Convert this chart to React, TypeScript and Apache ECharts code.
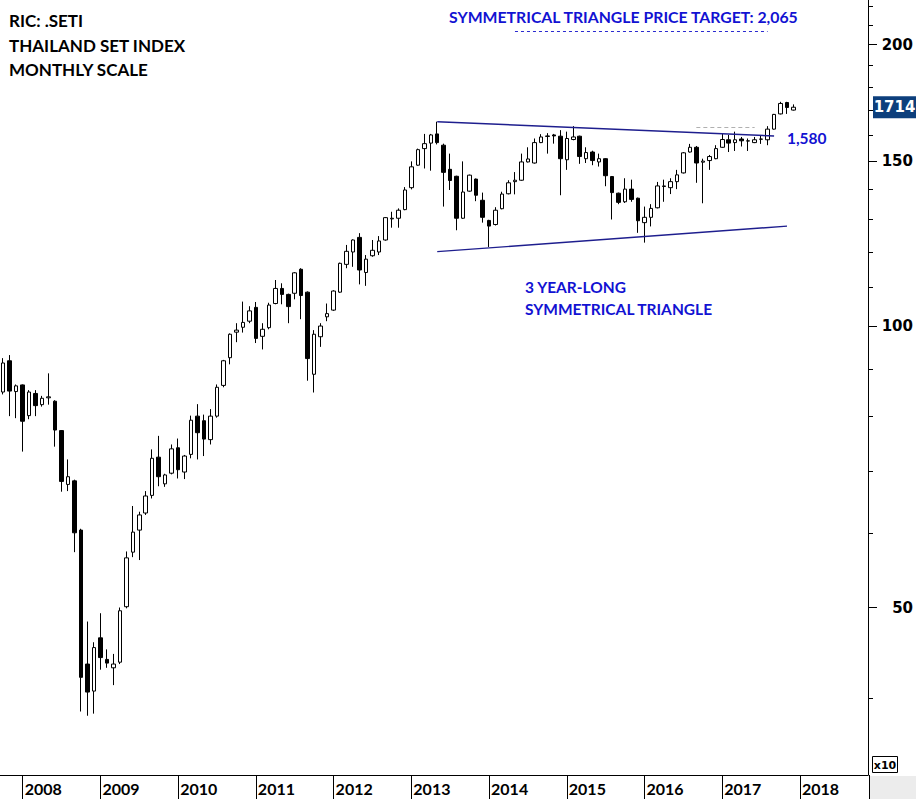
import React, { useEffect, useRef } from "react";
import * as echarts from "echarts";

// ---- data (SET index, monthly [open, close, low, high]) ----
const firstYear = 2007;
const firstMonthIndex = 9; // October (0-based)
const monthCount = 134; // Oct 2007 .. Nov 2018 (axis room to the right)

const ohlc2007 = [
  [850, 913, 845, 924], [918, 852, 801, 931], [851, 863, 797, 866],
];
const ohlc2008 = [
  [865, 791, 734, 866], [802, 850, 795, 854], [847, 822, 801, 854], [824, 837, 820, 842],
  [838, 840, 824, 890], [831, 774, 743, 833], [773, 682, 665, 774], [677, 690, 666, 720],
  [683, 601, 573, 685], [605, 421, 387, 607], [435, 406, 383, 483], [407, 453, 385, 459],
];
const ohlc2009 = [
  [464, 442, 429, 493], [440, 436, 431, 451], [431, 435, 413, 446], [437, 496, 435, 500],
  [501, 565, 499, 574], [573, 602, 566, 642], [605, 628, 562, 633], [631, 658, 628, 666],
  [659, 722, 654, 738], [724, 690, 674, 763], [678, 693, 673, 695], [696, 739, 694, 747],
];
const ohlc2010 = [
  [741, 702, 687, 758], [698, 726, 686, 728], [729, 793, 722, 802], [801, 769, 720, 825],
  [792, 757, 726, 804], [756, 801, 747, 815], [801, 860, 798, 866], [864, 918, 860, 920],
  [925, 980, 910, 982], [985, 990, 961, 1007], [997, 1009, 984, 1062], [1012, 1038, 1007, 1050],
];
const ohlc2011 = [
  [1047, 970, 959, 1061], [975, 992, 944, 1007], [996, 1053, 992, 1059], [1057, 1097, 1055, 1120],
  [1097, 1081, 1055, 1111], [1081, 1049, 1007, 1083], [1084, 1140, 1068, 1142], [1150, 1078, 1017, 1153],
  [1087, 923, 874, 1089], [888, 980, 849, 990], [974, 1000, 950, 1007], [1023, 1031, 1012, 1057],
];
const ohlc2012 = [
  [1040, 1090, 1038, 1092], [1087, 1167, 1085, 1169], [1164, 1202, 1153, 1221], [1200, 1236, 1157, 1238],
  [1244, 1148, 1108, 1257], [1141, 1179, 1104, 1191], [1189, 1205, 1186, 1236], [1200, 1233, 1191, 1248],
  [1236, 1306, 1234, 1308], [1302, 1304, 1274, 1325], [1304, 1330, 1274, 1336], [1332, 1398, 1330, 1408],
];
const ohlc2013 = [
  [1406, 1480, 1400, 1500], [1486, 1544, 1484, 1548], [1548, 1567, 1474, 1605], [1569, 1601, 1466, 1605],
  [1605, 1571, 1564, 1654], [1561, 1460, 1342, 1567], [1471, 1431, 1398, 1529], [1446, 1304, 1266, 1448],
  [1304, 1391, 1302, 1500], [1394, 1450, 1392, 1452], [1436, 1380, 1360, 1438], [1363, 1307, 1290, 1389],
];
const ohlc2014 = [
  [1297, 1279, 1215, 1299], [1284, 1330, 1281, 1340], [1335, 1384, 1333, 1392], [1385, 1423, 1383, 1432],
  [1427, 1432, 1383, 1461], [1432, 1498, 1430, 1529], [1498, 1509, 1496, 1553], [1494, 1571, 1492, 1587],
  [1571, 1593, 1569, 1604], [1595, 1597, 1529, 1608], [1601, 1597, 1567, 1605], [1596, 1510, 1380, 1620],
];
const ohlc2015 = [
  [1506, 1587, 1469, 1614], [1583, 1593, 1580, 1636], [1596, 1518, 1491, 1598], [1510, 1533, 1494, 1553],
  [1535, 1503, 1486, 1540], [1498, 1510, 1481, 1529], [1510, 1448, 1411, 1512], [1445, 1389, 1300, 1447],
  [1387, 1356, 1350, 1389], [1358, 1401, 1354, 1439], [1401, 1366, 1358, 1434], [1370, 1296, 1258, 1372],
];
const ohlc2016 = [
  [1290, 1307, 1228, 1342], [1307, 1336, 1278, 1350], [1338, 1412, 1336, 1426], [1410, 1412, 1358, 1434],
  [1406, 1427, 1384, 1439], [1427, 1451, 1401, 1469], [1458, 1532, 1456, 1535], [1535, 1553, 1533, 1566],
  [1553, 1494, 1423, 1558], [1497, 1501, 1353, 1510], [1503, 1518, 1469, 1524], [1510, 1548, 1508, 1561],
];
const ohlc2017 = [
  [1553, 1583, 1551, 1605], [1582, 1569, 1535, 1601], [1571, 1582, 1539, 1614], [1585, 1578, 1556, 1593],
  [1577, 1578, 1539, 1587], [1571, 1582, 1569, 1593], [1584, 1585, 1566, 1597], [1582, 1624, 1561, 1636],
  [1624, 1684, 1622, 1686], [1686, 1730, 1684, 1737], [1734, 1713, 1686, 1737], [1702, 1714, 1700, 1726],
];

const yTickValues = [400, 500, 600, 700, 800, 900, 1000, 1100, 1200, 1300, 1400, 1500, 1600, 1700, 1800, 1900, 2000, 2100, 2200];
const yLabelValues = [500, 1000, 1500, 2000];
const yMin = 331;
const yMax = 2232;
const lastPrice = 1714;

const triangleUpper = [["2013-05", 1654], ["2017-09", 1597]];
const triangleLower = [["2013-05", 1201], ["2017-11", 1279]];
const priorHighRef = [["2016-09", 1631], ["2017-06", 1631]];
const priceTarget = [["2014-05", 2065], ["2017-08", 2065]];

const BLUE_TEXT = "#1212d2";
const NAVY = "#1e1e8e";
const FONT = "Lato";

function buildCategories(): string[] {
  const out: string[] = [];
  for (let i = 0; i < monthCount; i++) {
    const m = firstMonthIndex + i;
    const y = firstYear + Math.floor(m / 12);
    const mm = (m % 12) + 1;
    out.push(`${y}-${mm < 10 ? "0" + mm : mm}`);
  }
  return out;
}

export default function App() {
  const ref = useRef<HTMLDivElement>(null);
  useEffect(() => {
    document.body.style.margin = "0";
    if (!ref.current) return;
    const chart = echarts.init(ref.current, null, { renderer: "svg" });
    const categories = buildCategories();
    const candles = [
      ...ohlc2007, ...ohlc2008, ...ohlc2009, ...ohlc2010, ...ohlc2011, ...ohlc2012,
      ...ohlc2013, ...ohlc2014, ...ohlc2015, ...ohlc2016, ...ohlc2017,
    ];
    const isJan = (_i: number, v: string) => v.endsWith("-01");
    const seg = (pts: any[], color: string, type: any, width: number) => [
      { coord: pts[0], lineStyle: { color, type, width } },
      { coord: pts[1] },
    ];

    chart.setOption({
      animation: false,
      grid: { left: 0, right: 47, top: 0, bottom: 24, containLabel: false },
      xAxis: {
        type: "category",
        data: categories,
        boundaryGap: true,
        axisLine: { show: true, lineStyle: { color: "#000", width: 1 } },
        axisTick: { show: true, interval: isJan, alignWithLabel: true, length: 24, lineStyle: { color: "#000" } },
        axisLabel: {
          interval: isJan,
          formatter: (v: string) => v.slice(0, 4),
          align: "left",
          padding: [0, 0, 0, 2],
          margin: 5,
          fontFamily: FONT,
          fontWeight: "bold",
          fontSize: 16,
          color: "#000",
        },
        splitLine: { show: false },
      },
      yAxis: [
        {
          type: "log",
          logBase: 10,
          position: "right",
          min: yMin,
          max: yMax,
          axisLine: { show: true, lineStyle: { color: "#000", width: 1 } },
          axisTick: { show: true, customValues: yTickValues, length: 5, lineStyle: { color: "#000" } },
          axisLabel: {
            customValues: yLabelValues,
            formatter: (v: number) => String(Math.round(v / 10)),
            align: "right",
            margin: 45,
            fontFamily: "DejaVu Sans",
            fontWeight: "bold",
            fontSize: 15,
            color: "#000",
          },
          splitLine: { show: false },
        },
        {
          type: "log",
          logBase: 10,
          position: "right",
          min: yMin,
          max: yMax,
          axisLine: { show: false },
          axisTick: { show: true, customValues: yLabelValues, length: 9, lineStyle: { color: "#000" } },
          axisLabel: { show: false },
          splitLine: { show: false },
        },
      ],
      series: [
        {
          type: "candlestick",
          yAxisIndex: 0,
          data: candles,
          barWidth: 4,
          itemStyle: {
            color: "#ffffff",
            color0: "#000000",
            borderColor: "#000000",
            borderColor0: "#000000",
            borderColorDoji: "#000000",
            borderWidth: 1,
          },
          markLine: {
            silent: true,
            symbol: ["none", "none"],
            label: { show: false },
            data: [
              seg(triangleUpper, NAVY, "solid", 1.4),
              seg(triangleLower, NAVY, "solid", 1.4),
              seg(priorHighRef, "#b0b0b0", [4, 3], 1),
              seg(priceTarget, "#2a2ad0", [3, 3], 1),
            ],
          },
        },
      ],
    });

    const lastY = chart.convertToPixel({ yAxisIndex: 0 }, lastPrice) as number;

    chart.setOption({
      graphic: [
        { type: "rect", shape: { x: 870, y: 776, width: 46, height: 23 }, style: { fill: "#ececec" }, silent: true },
        { type: "line", shape: { x1: 869.5, y1: 775, x2: 869.5, y2: 799 }, style: { stroke: "#000", lineWidth: 1 } },
        { type: "rect", shape: { x: 872.5, y: 756.5, width: 25, height: 16 }, style: { fill: "#fff", stroke: "#000", lineWidth: 1 } },
        { type: "text", x: 885, y: 765, style: { text: "x10", fill: "#000", font: "bold 11px 'DejaVu Sans'", align: "center", verticalAlign: "middle" } },
        { type: "rect", shape: { x: 873, y: lastY - 11, width: 43, height: 22 }, style: { fill: "#0d3f7c" } },
        { type: "text", x: 894.5, y: lastY, style: { text: String(lastPrice), fill: "#fff", font: "bold 15px 'DejaVu Sans'", align: "center", verticalAlign: "middle" } },
        { type: "text", x: 9, y: 20, style: { text: "RIC: .SETI", fill: "#000", font: `bold 17px ${FONT}`, verticalAlign: "middle" } },
        { type: "text", x: 9, y: 45, style: { text: "THAILAND SET INDEX", fill: "#000", font: `bold 17px ${FONT}`, verticalAlign: "middle" } },
        { type: "text", x: 9, y: 69, style: { text: "MONTHLY SCALE", fill: "#000", font: `bold 17px ${FONT}`, verticalAlign: "middle" } },
        { type: "text", x: 449, y: 16, style: { text: "SYMMETRICAL TRIANGLE PRICE TARGET: 2,065", fill: BLUE_TEXT, font: `bold 15.8px ${FONT}`, verticalAlign: "middle" } },
        { type: "text", x: 787, y: 138, style: { text: "1,580", fill: BLUE_TEXT, font: `bold 15.5px ${FONT}`, verticalAlign: "middle" } },
        { type: "text", x: 525, y: 287, style: { text: "3 YEAR-LONG", fill: BLUE_TEXT, font: `bold 15.5px ${FONT}`, verticalAlign: "middle" } },
        { type: "text", x: 525, y: 309, style: { text: "SYMMETRICAL TRIANGLE", fill: BLUE_TEXT, font: `bold 15.5px ${FONT}`, verticalAlign: "middle" } },
      ],
    });

    return () => chart.dispose();
  }, []);
  return <div ref={ref} style={{ width: 916, height: 799 }} />;
}
